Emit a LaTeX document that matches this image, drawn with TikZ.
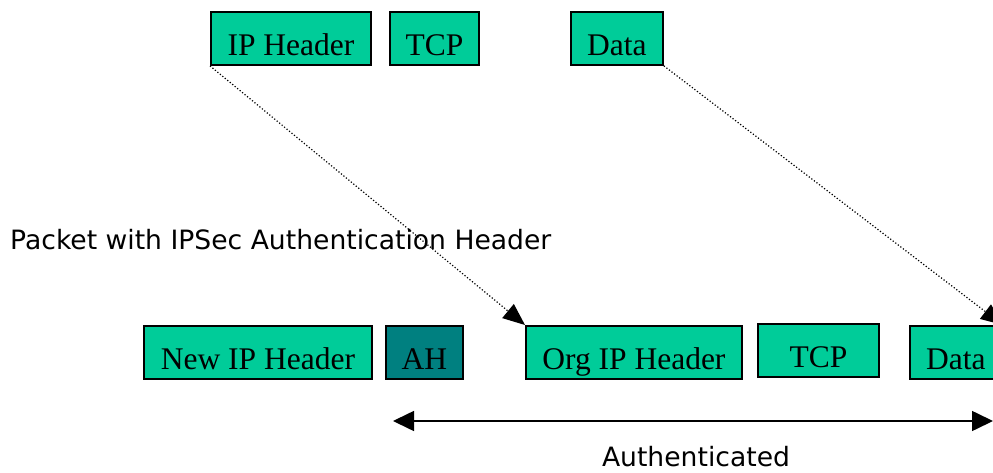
\documentclass[tikz,border=0pt]{standalone}
\usepackage{fontspec}
\setmainfont{Liberation Serif}
\newfontfamily\labelfont{DejaVu Sans}
\usetikzlibrary{arrows.meta,positioning,calc}
\definecolor{pkt}{HTML}{00CC99}
\definecolor{authhdr}{HTML}{008080}

\begin{document}
\begin{tikzpicture}[x=1pt, y=-1pt,
    field/.style={draw=black, line width=1.9pt, fill=pkt, inner sep=0pt,
      minimum height=53pt, text height=35pt, text depth=0pt, anchor=north west,
      font=\fontsize{31.5}{36}\selectfont},
    caption/.style={font=\labelfont\fontsize{26.6}{30}\selectfont, inner sep=0pt}]
  \useasboundingbox (0,0) rectangle (993,473);
  % original packet
  \foreach \n/\x/\w/\t in {iphdr/210/160/IP Header, tcp/389/89/TCP, data/570/92/Data}{
    \node[field, minimum width=\w pt] (\n) at (\x,11) {\t};}
  % packet with AH
  \node[caption, anchor=base west] (pktlbl) at (10,249) {Packet with IPSec Authentication Header};
  \node[field, minimum width=228pt] (newhdr) at (143,325) {New IP Header};
  \node[field, minimum width=77pt, fill=authhdr] (ah) at (385,325) {AH};
  \node[field, minimum width=216pt] (orghdr) at (525,325) {Org IP Header};
  \node[field, minimum width=121pt] (tcpb) at (757,323) {TCP};
  \node[field, minimum width=92pt] (datab) at (909,325) {Data};
  % moved fields
  \draw[dotted, line width=1.2pt, -{Triangle[length=22pt, width=18pt]}]
        (iphdr.south west) -- (orghdr.north west);
  \draw[dotted, line width=1.2pt, -{Triangle[length=22pt, width=18pt]}]
        (data.south east) -- (datab.north east);
  % authenticated span
  \coordinate (authL) at (393,421);
  \coordinate (authR) at (993,421);
  \draw[line width=1.6pt, {Triangle[length=21pt, width=20pt]}-{Triangle[length=21pt, width=20pt]}]
        (authL) -- (authR);
  \node[caption, anchor=base] (authlbl) at (696,466) {Authenticated};
\end{tikzpicture}
\end{document}
